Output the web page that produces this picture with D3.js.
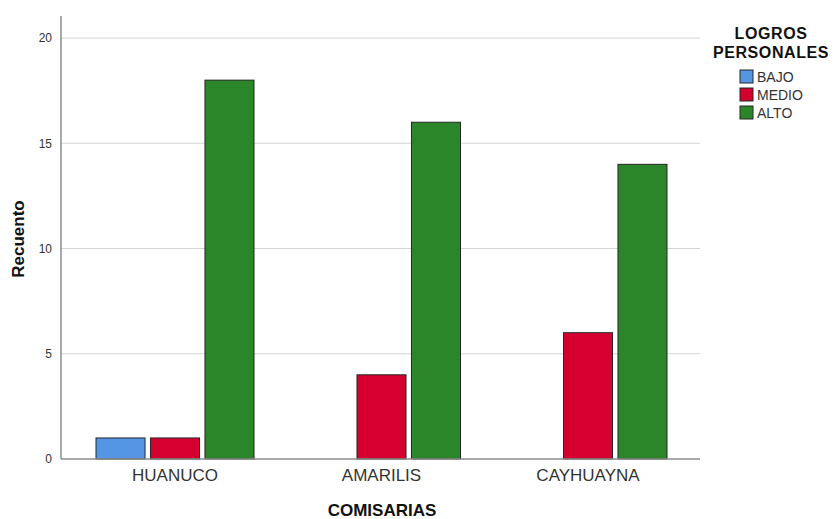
<!DOCTYPE html>
<html>
<head>
<meta charset="utf-8">
<script src="https://cdn.jsdelivr.net/npm/d3@7"></script>
<style>
  html, body { margin: 0; padding: 0; background: #fff; }
  svg { display: block; font-family: "Liberation Sans", Arial, sans-serif; }
</style>
</head>
<body>
<svg id="chart" width="838" height="519"></svg>
<script>
// Recuento por comisaría y nivel de logros personales
const comisarias = ["HUANUCO", "AMARILIS", "CAYHUAYNA"];
const niveles = ["BAJO", "MEDIO", "ALTO"];
const bajo  = [1, 0, 0];
const medio = [1, 4, 6];
const alto  = [18, 16, 14];
const yTicks = [0, 5, 10, 15, 20];
const colores = ["#5596e4", "#d5002f", "#2a8629"];

const series = { BAJO: bajo, MEDIO: medio, ALTO: alto };
const rows = comisarias.map((c, i) => ({
  comisaria: c,
  values: niveles.map(n => ({ nivel: n, value: series[n][i] }))
}));

const svg = d3.select("#chart");
const plotLeft = 61, plotRight = 700, plotTop = 17, plotBottom = 459;

const y = d3.scaleLinear().domain([0, 21]).range([plotBottom, plotTop]);
const x0 = d3.scaleBand().domain(comisarias).range([71.75, 691.25]).padding(0);
const x1 = d3.scaleBand().domain(niveles).range([0, 158]).paddingInner(0.1);
const color = d3.scaleOrdinal().domain(niveles).range(colores);

// gridlines
svg.append("g")
  .selectAll("line")
  .data(yTicks.filter(t => t > 0))
  .join("line")
  .attr("x1", plotLeft).attr("x2", plotRight)
  .attr("y1", d => y(d)).attr("y2", d => y(d))
  .attr("stroke", "#d4d4d4").attr("stroke-width", 1);

// bars
const groups = svg.append("g")
  .selectAll("g")
  .data(rows)
  .join("g")
  .attr("transform", d => `translate(${x0(d.comisaria) + x0.bandwidth() / 2 - 79},0)`);

groups.selectAll("rect")
  .data(d => d.values.filter(v => v.value > 0))
  .join("rect")
  .attr("x", d => x1(d.nivel))
  .attr("y", d => y(d.value))
  .attr("width", x1.bandwidth())
  .attr("height", d => y(0) - y(d.value))
  .attr("fill", d => color(d.nivel))
  .attr("stroke", "#262626")
  .attr("stroke-width", 1);

// y axis
const yAxis = svg.append("g")
  .attr("transform", `translate(${plotLeft},0)`)
  .call(d3.axisLeft(y).tickValues(yTicks).tickSize(0).tickPadding(9).tickFormat(d3.format("d")));
yAxis.select(".domain").attr("stroke", "#8c8c8c").attr("stroke-width", 1.5)
  .attr("d", `M0,${plotTop - 1}V${plotBottom}`);
yAxis.selectAll("text").attr("font-size", 12).attr("fill", "#333").attr("font-family", "Liberation Sans, Arial, sans-serif");

// x axis
const xAxis = svg.append("g")
  .attr("transform", `translate(0,${plotBottom})`)
  .call(d3.axisBottom(x0).tickSize(0).tickPadding(10));
xAxis.select(".domain").attr("stroke", "#8c8c8c").attr("stroke-width", 1.5)
  .attr("d", `M${plotLeft},0H${plotRight}`);
xAxis.selectAll("text").attr("font-size", 17).attr("fill", "#333").attr("font-family", "Liberation Sans, Arial, sans-serif");

// axis titles
svg.append("text")
  .attr("transform", `translate(24,${(plotTop + plotBottom) / 2 + 1}) rotate(-90)`)
  .attr("text-anchor", "middle")
  .attr("font-size", 17).attr("font-weight", "bold").attr("fill", "#111")
  .text("Recuento");

svg.append("text")
  .attr("x", 382).attr("y", 516)
  .attr("text-anchor", "middle")
  .attr("font-size", 17).attr("font-weight", "bold").attr("fill", "#111")
  .text("COMISARIAS");

// legend title
const legend = svg.append("g");
legend.append("text")
  .attr("x", 771).attr("y", 39)
  .attr("text-anchor", "middle")
  .attr("font-size", 16).attr("letter-spacing", 0.6).attr("font-weight", "bold").attr("fill", "#111")
  .text("LOGROS");
legend.append("text")
  .attr("x", 771).attr("y", 58)
  .attr("text-anchor", "middle")
  .attr("font-size", 16).attr("letter-spacing", 0.6).attr("font-weight", "bold").attr("fill", "#111")
  .text("PERSONALES");

const items = legend.selectAll("g.item")
  .data(niveles)
  .join("g")
  .attr("class", "item")
  .attr("transform", (d, i) => `translate(740,${70 + i * 18})`);
items.append("rect")
  .attr("width", 13).attr("height", 13)
  .attr("fill", d => color(d))
  .attr("stroke", "#262626").attr("stroke-width", 1);
items.append("text")
  .attr("x", 17).attr("y", 12)
  .attr("font-size", 14).attr("fill", "#333")
  .text(d => d);
</script>
</body>
</html>
